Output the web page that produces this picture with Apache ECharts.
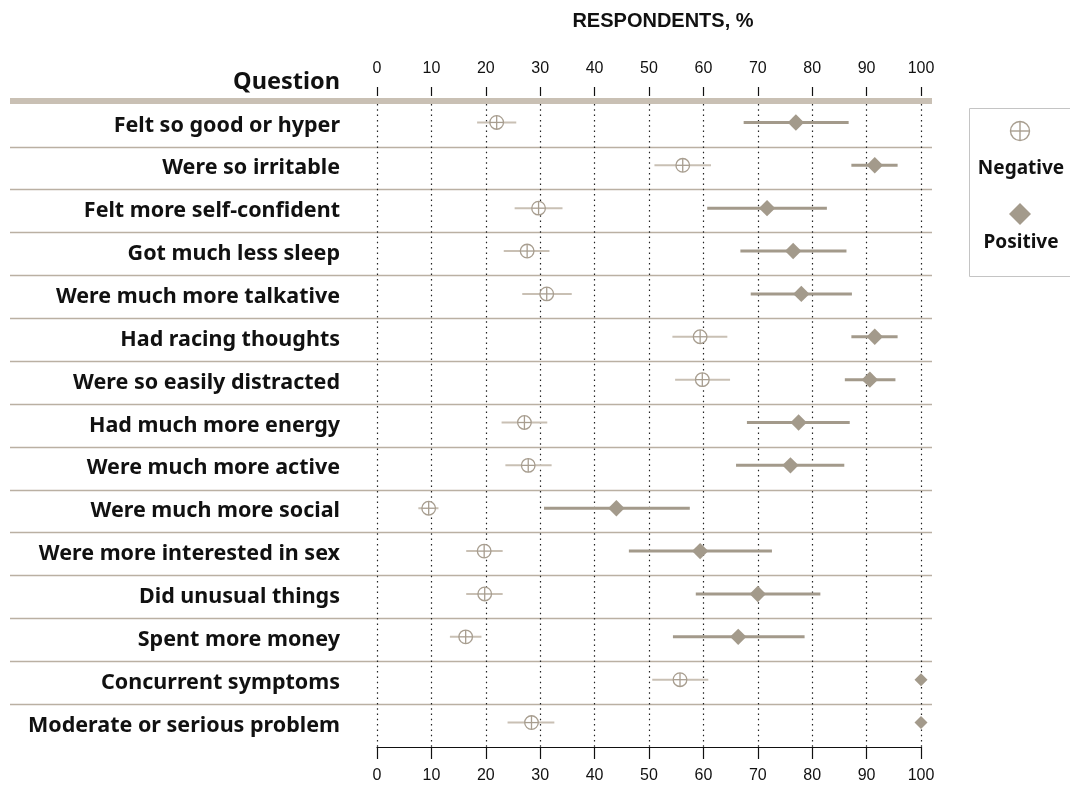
<!DOCTYPE html>
<html>
<head>
<meta charset="utf-8">
<script src="https://cdn.jsdelivr.net/npm/echarts@6/dist/echarts.min.js"></script>
<style>
  html, body { margin: 0; padding: 0; background: #fff; }
  #chart { width: 1070px; height: 787px; }
</style>
</head>
<body>
<div id="chart"></div>
<script>
const questions = [
  'Felt so good or hyper', 'Were so irritable', 'Felt more self-confident',
  'Got much less sleep', 'Were much more talkative', 'Had racing thoughts',
  'Were so easily distracted', 'Had much more energy', 'Were much more active',
  'Were much more social', 'Were more interested in sex', 'Did unusual things',
  'Spent more money', 'Concurrent symptoms', 'Moderate or serious problem'
];
const xTicks = [0, 10, 20, 30, 40, 50, 60, 70, 80, 90, 100];

const negMean = [22.0, 56.2, 29.7, 27.6, 31.2, 59.4, 59.8, 27.1, 27.8, 9.5, 19.7, 19.8, 16.3, 55.7, 28.4];
const negLow  = [18.4, 51.0, 25.3, 23.3, 26.7, 54.3, 54.8, 22.9, 23.6, 7.6, 16.4, 16.4, 13.4, 50.6, 24.0];
const negHigh = [25.6, 61.4, 34.1, 31.7, 35.8, 64.4, 64.9, 31.3, 32.1, 11.3, 23.1, 23.1, 19.2, 60.9, 32.6];

const posMean = [77.0, 91.5, 71.7, 76.5, 78.0, 91.5, 90.6, 77.5, 76.0, 44.0, 59.4, 70.0, 66.4, 100, 100];
const posLow  = [67.4, 87.2, 60.7, 66.8, 68.7, 87.2, 86.0, 68.0, 66.0, 30.7, 46.3, 58.6, 54.4, 100, 100];
const posHigh = [86.7, 95.7, 82.7, 86.3, 87.3, 95.7, 95.3, 86.9, 85.9, 57.5, 72.6, 81.5, 78.6, 100, 100];

const LABEL_FONT = '"Noto Sans", "DejaVu Sans", sans-serif';
const TICK_FONT = '"Liberation Sans", Arial, sans-serif';
const TAUPE = '#a39a8b';
const NEG_LINE = '#c9c0b4';
const NEG_STROKE = '#a89e90';

function rows(mean, low, high) {
  return questions.map((q, i) => [i, mean[i], low[i], high[i]]);
}

// marker sits a touch above the row centre, like the original
const LIFT = 3;

function renderNeg(params, api) {
  const c = api.coord([api.value(1), api.value(0)]);
  const lo = api.coord([api.value(2), api.value(0)]);
  const hi = api.coord([api.value(3), api.value(0)]);
  const y = c[1] - LIFT;
  const r = 6.8;
  const st = { stroke: NEG_STROKE, lineWidth: 1.3, fill: null };
  return {
    type: 'group',
    children: [
      { type: 'line', shape: { x1: lo[0], y1: y, x2: hi[0], y2: y }, style: { stroke: NEG_LINE, lineWidth: 2 } },
      { type: 'circle', shape: { cx: c[0], cy: y, r: r }, style: { stroke: NEG_STROKE, lineWidth: 1.3, fill: '#fff' } },
      { type: 'line', shape: { x1: c[0] - r, y1: y, x2: c[0] + r, y2: y }, style: st },
      { type: 'line', shape: { x1: c[0], y1: y - r, x2: c[0], y2: y + r }, style: st }
    ]
  };
}

function renderPos(params, api) {
  const c = api.coord([api.value(1), api.value(0)]);
  const lo = api.coord([api.value(2), api.value(0)]);
  const hi = api.coord([api.value(3), api.value(0)]);
  const y = c[1] - LIFT;
  const h = api.value(1) >= 100 ? 6.5 : 8.2;
  return {
    type: 'group',
    children: [
      { type: 'line', shape: { x1: lo[0], y1: y, x2: hi[0], y2: y }, style: { stroke: TAUPE, lineWidth: 3 } },
      { type: 'polygon', shape: { points: [[c[0], y - h], [c[0] + h, y], [c[0], y + h], [c[0] - h, y]] }, style: { fill: TAUPE } }
    ]
  };
}

const chart = echarts.init(document.getElementById('chart'), null, { renderer: 'canvas' });

const option = {
  animation: false,
  grid: [
    { left: 10, right: 138, top: 104, bottom: 40 },
    { left: 377, right: 149, top: 104, bottom: 40 }
  ],
  xAxis: [
    {
      gridIndex: 0, type: 'value', position: 'top', min: 0, max: 100, offset: 3,
      axisLine: { show: true, onZero: false, lineStyle: { color: '#c9c0b4', width: 6, cap: 'butt' } },
      axisTick: { show: false }, axisLabel: { show: false }, splitLine: { show: false }
    },
    {
      gridIndex: 1, type: 'value', position: 'bottom', min: 0, max: 100, interval: 10,
      axisLine: { show: true, onZero: false, lineStyle: { color: '#111', width: 1.2 } },
      axisTick: { show: true, length: 12, lineStyle: { color: '#111', width: 1.2 } },
      axisLabel: { margin: 21, fontSize: 16, color: '#111', fontFamily: TICK_FONT,
        formatter: v => xTicks.includes(v) ? String(v) : '' },
      splitLine: { show: true, lineStyle: { color: '#222', width: 1.2, type: [1.5, 3.8] } }
    },
    {
      gridIndex: 1, type: 'value', position: 'top', min: 0, max: 100, interval: 10, offset: 8,
      axisLine: { show: false },
      axisTick: { show: true, length: 9, lineStyle: { color: '#111', width: 1.2 } },
      axisLabel: { margin: 19, fontSize: 16, color: '#111', fontFamily: TICK_FONT },
      splitLine: { show: false }
    }
  ],
  yAxis: [
    {
      gridIndex: 0, type: 'category', data: questions, inverse: true,
      axisLine: { show: false }, axisTick: { show: false }, axisLabel: { show: false },
      splitLine: { show: true, showMinLine: false, showMaxLine: false, lineStyle: { color: '#bab0a3', width: 1.3 } }
    },
    {
      gridIndex: 1, type: 'category', data: questions, inverse: true,
      axisLine: { show: false }, axisTick: { show: false },
      axisLabel: { margin: 37, fontSize: 21.5, fontWeight: 'bold', color: '#111', fontFamily: LABEL_FONT },
      splitLine: { show: false }
    }
  ],
  series: [
    {
      name: 'Negative', type: 'custom', xAxisIndex: 1, yAxisIndex: 1,
      renderItem: renderNeg, data: rows(negMean, negLow, negHigh),
      encode: { x: [1, 2, 3], y: 0 }, clip: false, z: 3
    },
    {
      name: 'Positive', type: 'custom', xAxisIndex: 1, yAxisIndex: 1,
      renderItem: renderPos, data: rows(posMean, posLow, posHigh),
      encode: { x: [1, 2, 3], y: 0 }, clip: false, z: 4
    }
  ],
  graphic: [
    {
      type: 'text', x: 663, y: 21,
      style: { text: 'RESPONDENTS, %', fill: '#111', font: 'bold 20px ' + TICK_FONT, align: 'center', verticalAlign: 'middle' }
    },
    {
      type: 'text', x: 340, y: 82,
      style: { text: 'Question', fill: '#111', font: 'bold 23.5px ' + LABEL_FONT, align: 'right', verticalAlign: 'middle' }
    },
    {
      type: 'group',
      children: [
        { type: 'rect', shape: { x: 969.5, y: 108.5, width: 130, height: 168 }, style: { fill: '#fff', stroke: '#c4c4c4', lineWidth: 1 } },
        { type: 'circle', shape: { cx: 1020, cy: 131, r: 9.5 }, style: { fill: '#fff', stroke: NEG_STROKE, lineWidth: 1.4 } },
        { type: 'line', shape: { x1: 1010.5, y1: 131, x2: 1029.5, y2: 131 }, style: { stroke: NEG_STROKE, lineWidth: 1.4 } },
        { type: 'line', shape: { x1: 1020, y1: 121.5, x2: 1020, y2: 140.5 }, style: { stroke: NEG_STROKE, lineWidth: 1.4 } },
        { type: 'text', x: 1021, y: 169, style: { text: 'Negative', fill: '#111', font: 'bold 19px ' + LABEL_FONT, align: 'center', verticalAlign: 'middle' } },
        { type: 'polygon', shape: { points: [[1020, 203], [1031, 214], [1020, 225], [1009, 214]] }, style: { fill: TAUPE } },
        { type: 'text', x: 1021, y: 243, style: { text: 'Positive', fill: '#111', font: 'bold 19px ' + LABEL_FONT, align: 'center', verticalAlign: 'middle' } }
      ]
    }
  ]
};

chart.setOption(option);
</script>
</body>
</html>
